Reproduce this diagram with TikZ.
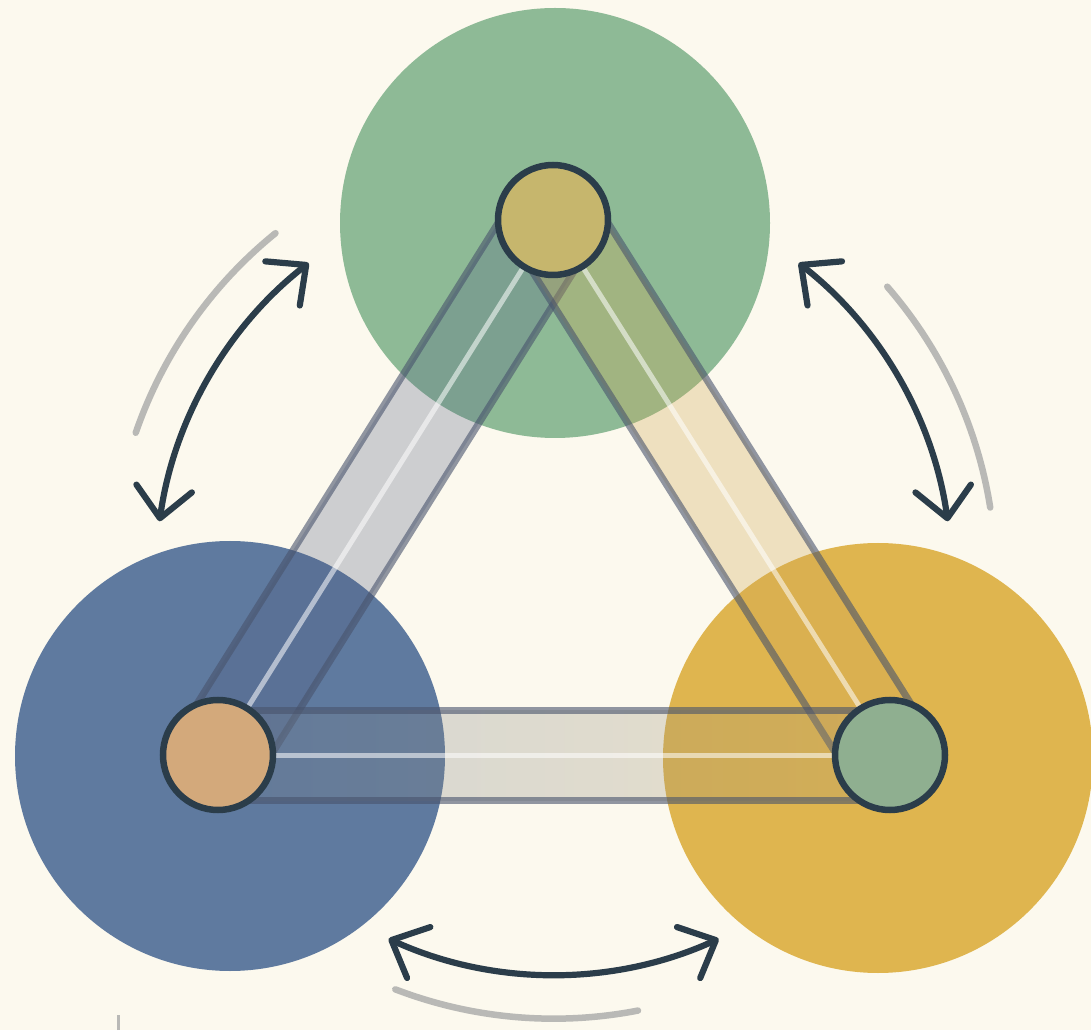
\documentclass[tikz,border=0pt]{standalone}
\definecolor{cream}{HTML}{FCF9EE}
\definecolor{sage}{HTML}{8EBA96}
\definecolor{slate}{HTML}{5F7A9F}
\definecolor{gold}{HTML}{DFB54F}
\definecolor{khaki}{HTML}{C6B66D}
\definecolor{sand}{HTML}{D3A97B}
\definecolor{mint}{HTML}{8FAF90}
\definecolor{ink}{HTML}{2B3D4A}
\definecolor{edge}{HTML}{48536C}
\definecolor{indigo}{HTML}{4F5C80}
\definecolor{ochre}{HTML}{CFA753}
\definecolor{pewter}{HTML}{6F7D90}
\definecolor{tawny}{HTML}{B49D6E}
\definecolor{haze}{HTML}{B9B9B6}
\usetikzlibrary{calc, arrows.meta}

\begin{document}
\begin{tikzpicture}[
  disc/.style={circle, minimum size=4.30cm, inner sep=0pt},
  hub/.style={circle, draw=ink, line width=0.065cm, minimum size=1.10cm, inner sep=0pt},
  bandblue/.style={fill=indigo, fill opacity=0.27},
  bandtan/.style={fill=ochre, fill opacity=0.3},
  bandgrey/.style={left color=pewter, right color=tawny, fill opacity=0.28},
  bandedge/.style={draw=edge, draw opacity=0.6, line width=0.07cm},
  bandmid/.style={draw=white, draw opacity=0.55, line width=0.05cm},
  swap/.style={draw=ink, line width=0.062cm, {Straight Barb[length=3mm, width=5.6mm, round]}-{Straight Barb[length=3mm, width=5.6mm, round]}},
  trail/.style={draw=haze, line width=0.065cm, line cap=round}
]
  \fill[cream] (0,0) rectangle (10.91,10.30);
  \useasboundingbox (0,0) rectangle (10.91,10.30);

  \node[disc, fill=sage] (discG) at (5.55,8.07) {};
  \node[disc, fill=slate] (discB) at (2.30,2.74) {};
  \node[disc, fill=gold] (discY) at (8.78,2.72) {};

  \coordinate (pT) at (5.53,8.10);
  \coordinate (pL) at (2.18,2.75);
  \coordinate (pR) at (8.90,2.75);

  % translucent bands between the hubs
  \foreach \a/\b/\tint in {pL/pT/bandblue, pT/pR/bandtan, pL/pR/bandgrey} {
    \path[\tint] ($(\a)!0.45cm!90:(\b)$) -- ($(\b)!0.45cm!-90:(\a)$)
      -- ($(\b)!0.45cm!90:(\a)$) -- ($(\a)!0.45cm!-90:(\b)$) -- cycle;
    \draw[bandedge] ($(\a)!0.45cm!90:(\b)$) -- ($(\b)!0.45cm!-90:(\a)$);
    \draw[bandedge] ($(\a)!0.45cm!-90:(\b)$) -- ($(\b)!0.45cm!90:(\a)$);
    \draw[bandmid] (\a) -- (\b);
  }

  \node[hub, fill=khaki] (hubT) at (pT) {};
  \node[hub, fill=sand] (hubL) at (pL) {};
  \node[hub, fill=mint] (hubR) at (pR) {};

  % exchange arrows round the middle
  \coordinate (mid) at (barycentric cs:hubL=1,hubT=1,hubR=1);
  \foreach \ang/\half in {150/22, 30/22, 270/24.5} {
    \draw[swap] ($(mid)+(\ang-\half:3.98)$) arc[start angle=\ang-\half, end angle=\ang+\half, radius=3.98];
    \draw[trail] ($(mid)+(\ang-21:4.42)$) arc[start angle=\ang-21, end angle=\ang+11, radius=4.42];
  }

  \draw[haze, line width=0.03cm] (1.18,0) -- (1.18,0.15);
\end{tikzpicture}
\end{document}
